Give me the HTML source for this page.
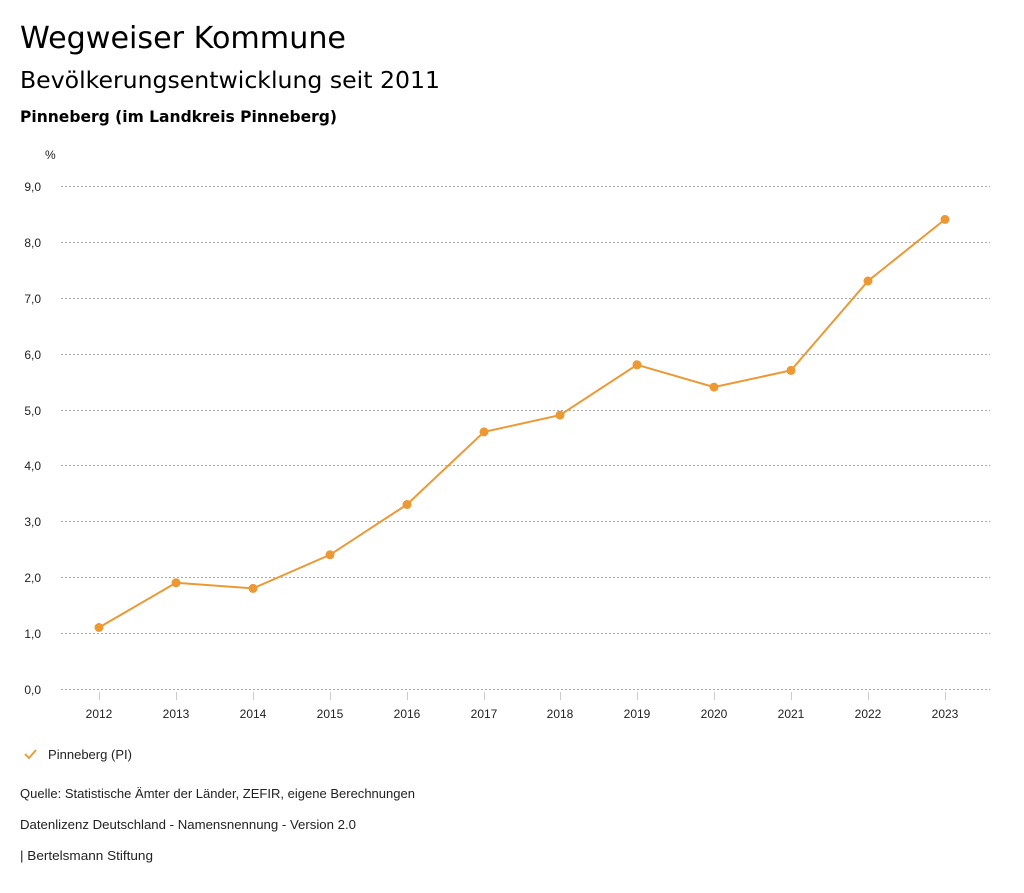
<!DOCTYPE html>
<html><head><meta charset="utf-8"><style>
body{margin:0;width:1024px;height:888px;background:#fff;font-family:"Liberation Sans","DejaVu Sans",sans-serif;overflow:hidden}
svg text{font-family:"Liberation Sans","DejaVu Sans",sans-serif}
svg text.d{font-family:"DejaVu Sans",sans-serif}
</style></head><body>
<svg width="1024" height="888" viewBox="0 0 1024 888">
<text class="d" x="20" y="48" font-size="30" fill="#000" textLength="326" lengthAdjust="spacingAndGlyphs">Wegweiser Kommune</text>
<text class="d" x="20" y="88" font-size="23.5" fill="#000" textLength="420" lengthAdjust="spacingAndGlyphs">Bevölkerungsentwicklung seit 2011</text>
<text class="d" x="20" y="122" font-size="16" font-weight="bold" fill="#000" textLength="317" lengthAdjust="spacingAndGlyphs">Pinneberg (im Landkreis Pinneberg)</text>
<text x="45" y="159" font-size="12" fill="#222">%</text>
<g stroke="#aaa" stroke-width="1" stroke-dasharray="2,2">
<line x1="61" x2="990" y1="186.5" y2="186.5"/><line x1="61" x2="990" y1="242.5" y2="242.5"/>
<line x1="61" x2="990" y1="298.5" y2="298.5"/><line x1="61" x2="990" y1="354.5" y2="354.5"/>
<line x1="61" x2="990" y1="410.5" y2="410.5"/><line x1="61" x2="990" y1="465.5" y2="465.5"/>
<line x1="61" x2="990" y1="521.5" y2="521.5"/><line x1="61" x2="990" y1="577.5" y2="577.5"/>
<line x1="61" x2="990" y1="633.5" y2="633.5"/><line x1="61" x2="990" y1="689.5" y2="689.5"/>
</g>
<g font-size="12" fill="#222" text-anchor="end">
<text x="41" y="191">9,0</text><text x="41" y="247">8,0</text><text x="41" y="303">7,0</text>
<text x="41" y="359">6,0</text><text x="41" y="415">5,0</text><text x="41" y="470">4,0</text>
<text x="41" y="526">3,0</text><text x="41" y="582">2,0</text><text x="41" y="638">1,0</text><text x="41" y="694">0,0</text>
</g>
<g stroke="#ccc"><line x1="99.5" x2="99.5" y1="692" y2="700"/><line x1="176.5" x2="176.5" y1="692" y2="700"/><line x1="253.5" x2="253.5" y1="692" y2="700"/><line x1="330.5" x2="330.5" y1="692" y2="700"/><line x1="407.5" x2="407.5" y1="692" y2="700"/><line x1="484.5" x2="484.5" y1="692" y2="700"/><line x1="560.5" x2="560.5" y1="692" y2="700"/><line x1="637.5" x2="637.5" y1="692" y2="700"/><line x1="714.5" x2="714.5" y1="692" y2="700"/><line x1="791.5" x2="791.5" y1="692" y2="700"/><line x1="868.5" x2="868.5" y1="692" y2="700"/><line x1="945.5" x2="945.5" y1="692" y2="700"/></g>
<g font-size="12" fill="#222" text-anchor="middle">
<text x="99" y="718">2012</text><text x="176" y="718">2013</text><text x="253" y="718">2014</text><text x="330" y="718">2015</text><text x="407" y="718">2016</text><text x="484" y="718">2017</text><text x="560" y="718">2018</text><text x="637" y="718">2019</text><text x="714" y="718">2020</text><text x="791" y="718">2021</text><text x="868" y="718">2022</text><text x="945" y="718">2023</text>
</g>
<polyline fill="none" stroke="#ec9934" stroke-width="2" points="99,627.5 176,582.8 253,588.4 330,554.8 407,504.5 484,431.9 560,415.1 637,364.8 714,387.1 791,370.4 868,281 945,219.4"/>
<g fill="#ec9934">
<circle cx="99" cy="627.5" r="4.5"/><circle cx="176" cy="582.8" r="4.5"/><circle cx="253" cy="588.4" r="4.5"/><circle cx="330" cy="554.8" r="4.5"/><circle cx="407" cy="504.5" r="4.5"/><circle cx="484" cy="431.9" r="4.5"/><circle cx="560" cy="415.1" r="4.5"/><circle cx="637" cy="364.8" r="4.5"/><circle cx="714" cy="387.1" r="4.5"/><circle cx="791" cy="370.4" r="4.5"/><circle cx="868" cy="281" r="4.5"/><circle cx="945" cy="219.4" r="4.5"/>
</g>
<polyline points="25,754 29,758 36,750" fill="none" stroke="#ec9934" stroke-width="1.8"/>
<text x="48" y="759" font-size="12.5" fill="#222" textLength="84" lengthAdjust="spacingAndGlyphs">Pinneberg (PI)</text>
<text x="20" y="798" font-size="12.5" fill="#222" textLength="395" lengthAdjust="spacingAndGlyphs">Quelle: Statistische Ämter der Länder, ZEFIR, eigene Berechnungen</text>
<text x="20" y="829" font-size="12.5" fill="#222" textLength="336" lengthAdjust="spacingAndGlyphs">Datenlizenz Deutschland - Namensnennung - Version 2.0</text>
<text x="20" y="860" font-size="12.5" fill="#222" textLength="133" lengthAdjust="spacingAndGlyphs">| Bertelsmann Stiftung</text>
</svg>
</body></html>
